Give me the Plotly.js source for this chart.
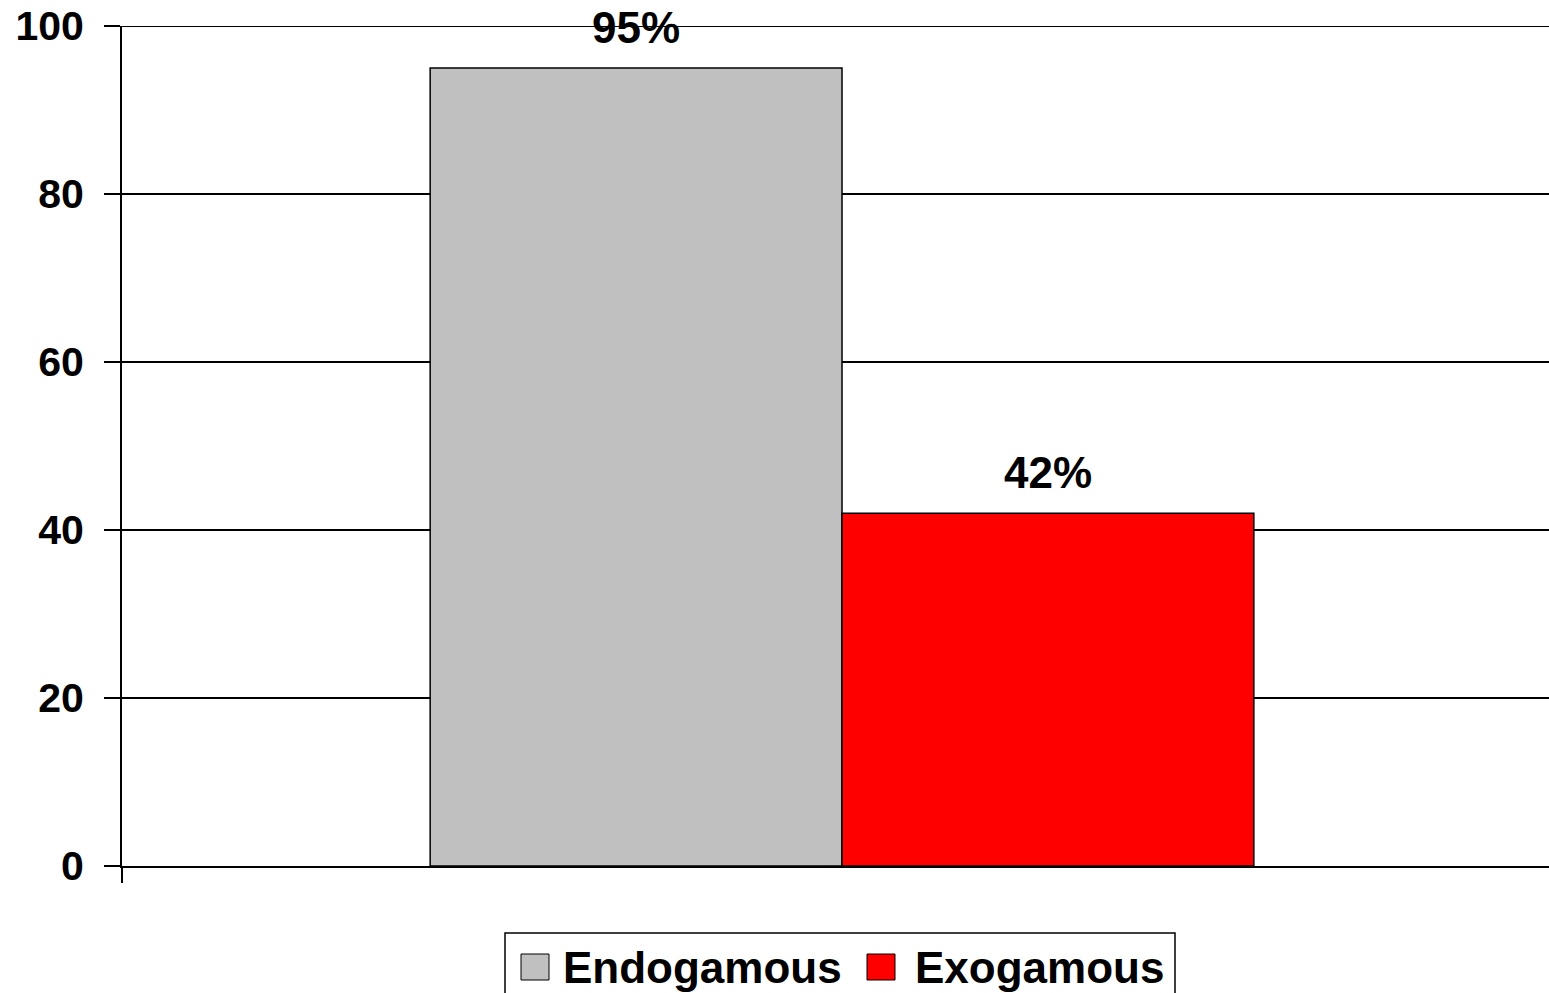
<!DOCTYPE html>
<html>
<head>
<meta charset="utf-8">
<script src="https://cdn.plot.ly/plotly-3.0.1.min.js"></script>
<style>
  html, body { margin: 0; padding: 0; background: #fff; overflow: hidden; }
  #chart { width: 1562px; height: 993px; }
</style>
</head>
<body>
<div id="chart"></div>
<script>
// ---- data ----
const categories = ['Endogamous', 'Exogamous'];
const values = [95, 42];
const colors = ['#C0C0C0', '#FF0000'];
const valueLabels = ['95%', '42%'];
const yTickVals = [0, 20, 40, 60, 80, 100];
const group = ['All'];

// ---- layout constants ----
const W = 1562, H = 993;
const M = { l: 122, r: 0, t: 26, b: 127 };
const PW = W - M.l - M.r, PH = H - M.t - M.b;
const px2x = px => (px - M.l) / PW;
const py2y = py => (H - M.b - py) / PH;
const BARGAP = 0.428;
const FONT = 'Liberation Sans, Arial, Helvetica, sans-serif';
const yMax = yTickVals[yTickVals.length - 1];

const traces = categories.map((c, i) => ({
  type: 'bar',
  name: c,
  x: group,
  y: [values[i]],
  marker: { color: colors[i], line: { color: '#000000', width: 1.5 } },
  showlegend: false,
  hoverinfo: 'skip'
}));

const annotations = categories.map((c, i) => ({
  xref: 'x', yref: 'y',
  x: (i - 0.5) * (1 - BARGAP) / 2,
  y: values[i],
  text: valueLabels[i],
  showarrow: false,
  xanchor: 'center', yanchor: 'middle',
  yshift: 41,
  font: { family: FONT, size: 44, color: '#000', weight: 700 }
}));

// top gridline (at the range edge Plotly omits it)
const shapes = [{
  type: 'line', xref: 'paper', yref: 'y',
  x0: 0, x1: 1, y0: yMax, y1: yMax,
  line: { color: '#000', width: 2 }, layer: 'below'
}];

// manual legend (large swatches like the original)
const legendItems = [
  { sw: [521, 549], tx: 561 },
  { sw: [867, 895], tx: 913 }
];
shapes.push({
  type: 'rect', xref: 'paper', yref: 'paper',
  x0: px2x(505), x1: px2x(1175), y0: py2y(933), y1: py2y(1010),
  line: { color: '#000', width: 1.5 }, fillcolor: 'rgba(0,0,0,0)'
});
legendItems.forEach((it, i) => {
  shapes.push({
    type: 'rect', xref: 'paper', yref: 'paper',
    x0: px2x(it.sw[0]), x1: px2x(it.sw[1]), y0: py2y(954), y1: py2y(980),
    line: { color: '#000', width: 1 }, fillcolor: colors[i]
  });
  annotations.push({
    xref: 'paper', yref: 'paper',
    x: px2x(it.tx), y: py2y(967),
    text: categories[i], showarrow: false,
    xanchor: 'left', yanchor: 'middle',
    font: { family: FONT, size: 44, color: '#000', weight: 700 }
  });
});

const layout = {
  width: W, height: H,
  margin: M,
  paper_bgcolor: '#ffffff', plot_bgcolor: '#ffffff',
  barmode: 'group', bargap: BARGAP, bargroupgap: 0,
  showlegend: false,
  xaxis: {
    type: 'category',
    range: [-0.5, 0.5],
    showticklabels: false,
    ticks: 'outside', tickson: 'boundaries', ticklen: 15, tickwidth: 1.5, tickcolor: '#000',
    showgrid: false, zeroline: false,
    showline: true, linecolor: '#000', linewidth: 2,
    fixedrange: true
  },
  yaxis: {
    range: [0, yMax],
    tickvals: yTickVals,
    ticktext: yTickVals.map(String),
    ticks: 'outside', ticklen: 16, tickwidth: 1.5, tickcolor: '#000',
    ticklabelstandoff: 12,
    showline: true, linecolor: '#000', linewidth: 2,
    showgrid: true, gridcolor: '#000', gridwidth: 1.2,
    zeroline: false,
    tickfont: { family: FONT, size: 41, color: '#000', weight: 700 },
    fixedrange: true
  },
  annotations: annotations,
  shapes: shapes
};

Plotly.newPlot('chart', traces, layout, { displayModeBar: false, staticPlot: true });
</script>
</body>
</html>
